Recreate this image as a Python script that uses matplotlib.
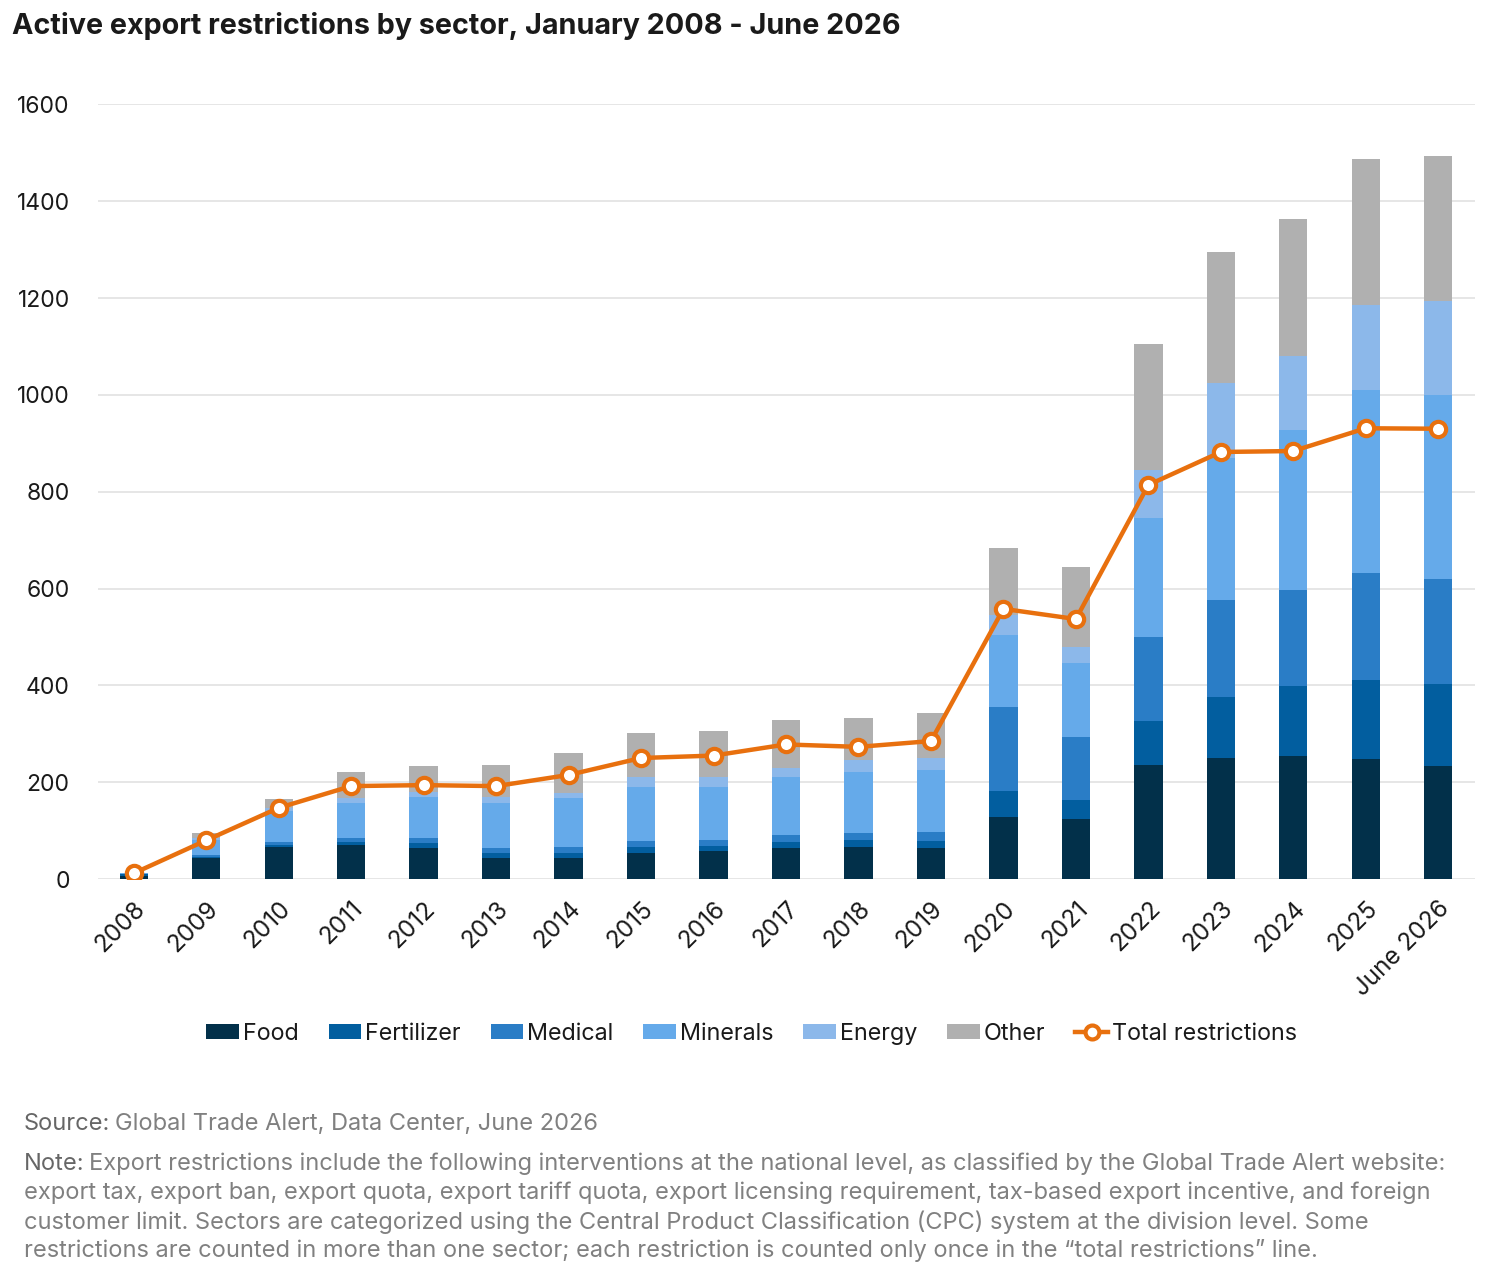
import numpy as np
import matplotlib
matplotlib.use("Agg")
import matplotlib.pyplot as plt
from matplotlib.patches import Patch
from matplotlib.lines import Line2D

plt.rcParams['font.family'] = ['Inter', 'DejaVu Sans']

# data
years = ['2008', '2009', '2010', '2011', '2012', '2013', '2014', '2015', '2016', '2017',
         '2018', '2019', '2020', '2021', '2022', '2023', '2024', '2025', 'June 2026']
food = [7, 43, 66, 71, 64, 43, 43, 54, 58, 64, 66, 64, 128, 124, 235, 250, 254, 247, 234]
fertilizer = [3, 3, 5, 6, 10, 11, 11, 12, 10, 12, 15, 15, 54, 39, 91, 125, 144, 165, 168]
medical = [1, 4, 5, 8, 11, 10, 12, 13, 13, 14, 14, 18, 173, 130, 174, 201, 198, 220, 217]
minerals = [1, 30, 64, 72, 85, 93, 101, 111, 109, 121, 126, 128, 149, 153, 245, 294, 332, 378, 381]
energy = [0, 4, 6, 10, 10, 13, 11, 21, 21, 19, 25, 25, 41, 33, 100, 154, 153, 175, 193]
other = [0, 11, 19, 54, 54, 65, 82, 90, 94, 98, 87, 93, 139, 166, 260, 270, 282, 303, 300]
total = [12, 80, 147, 192, 194, 192, 215, 250, 255, 278, 273, 285, 558, 537, 814, 882, 884, 931, 930]

series = [('Food', food, '#02304a'),
          ('Fertilizer', fertilizer, '#025e9f'),
          ('Medical', medical, '#2a7dc6'),
          ('Minerals', minerals, '#65aaea'),
          ('Energy', energy, '#8cb8ea'),
          ('Other', other, '#b0b0b0')]
line_color = '#e8700e'

fig = plt.figure(figsize=(15, 12.88), dpi=100)
ax = fig.add_axes([0.065, 0.3175, 0.918, 0.6015])

x = np.arange(len(years))
bottom = np.zeros(len(years))
for name, vals, col in series:
    ax.bar(x, vals, width=0.39, bottom=bottom, color=col, zorder=2)
    bottom += np.array(vals)

ax.plot(x, total, color=line_color, lw=3.2, marker='o', ms=11,
        mfc='white', mec=line_color, mew=3, zorder=3)

ax.set_xlim(-0.5, len(years) - 0.5)
ax.set_ylim(0, 1600)
ax.set_yticks(range(0, 1601, 200))
ax.yaxis.grid(True, color='#e2e2e2', lw=1.2, zorder=0)
ax.set_axisbelow(True)
for s in ax.spines.values():
    s.set_visible(False)
ax.tick_params(axis='y', length=0, labelsize=16.5, colors='#1a1a1a', pad=20)
ax.set_xticks(x)
ax.set_xticklabels(years, rotation=45, ha='right', rotation_mode='anchor')
ax.tick_params(axis='x', length=0, labelsize=17.5, colors='#1a1a1a', pad=13)

fig.text(0.008, 0.980, 'Active export restrictions by sector, January 2008 - June 2026',
         fontsize=20.7, fontweight='bold', color='#1a1a1a', va='center', ha='left')

handles = [Patch(facecolor=c, label=n) for n, _, c in series]
handles.append(Line2D([0], [0], color=line_color, lw=3.2, marker='o', ms=10,
                      mfc='white', mec=line_color, mew=3, label='Total restrictions'))
fig.legend(handles=handles, loc='center', bbox_to_anchor=(0.501, 0.1975), ncol=7,
           frameon=False, fontsize=16.8, handlelength=1.4, handleheight=0.6,
           handletextpad=0.15, columnspacing=1.3, labelcolor='#1a1a1a')

# footnotes
fig.canvas.draw()
rend = fig.canvas.get_renderer()
label_col = '#666666'
text_col = '#808080'
fs = 17

def label_then_text(y, label, rest):
    t = fig.text(0.016, y, label, fontsize=fs, color=label_col, va='center')
    bb = t.get_window_extent(renderer=rend)
    x1 = fig.transFigure.inverted().transform((bb.x1, bb.y0))[0]
    fig.text(x1 + 0.003, y, rest, fontsize=fs, color=text_col, va='center')

label_then_text(1 - 1124 / 1288, 'Source:', 'Global Trade Alert, Data Center, June 2026')
label_then_text(1 - 1164 / 1288, 'Note:',
                'Export restrictions include the following interventions at the national level, '
                'as classified by the Global Trade Alert website:')
note_lines = [
    'export tax, export ban, export quota, export tariff quota, export licensing requirement, '
    'tax-based export incentive, and foreign',
    'customer limit. Sectors are categorized using the Central Product Classification (CPC) '
    'system at the division level. Some',
    'restrictions are counted in more than one sector; each restriction is counted only once '
    'in the \u201ctotal restrictions\u201d line.',
]
for i, line in enumerate(note_lines):
    fig.text(0.016, 1 - (1193 + 29 * i) / 1288, line, fontsize=fs, color=text_col, va='center')

fig.savefig('out.png', dpi=100, facecolor='white')
